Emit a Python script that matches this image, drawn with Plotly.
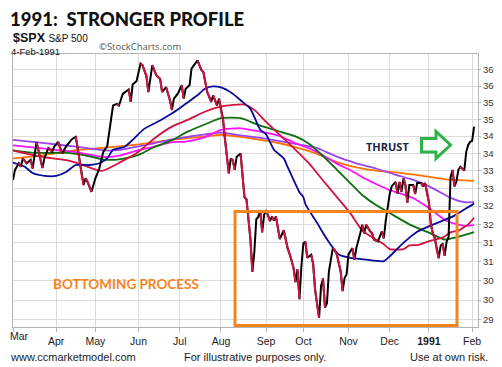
import plotly.graph_objects as go

# x values: trading-day number, 1 Mar 1990 = 0 (4 Feb 1991 = 235)
price_day = [0, 1, 3, 4, 5, 7, 9, 10, 12, 15, 16, 18, 20, 21, 23, 25, 27, 30, 32, 33,
             35, 36, 37, 38, 40, 42, 44, 46, 48, 50, 51, 53, 54, 56, 58, 59, 60, 61, 63, 65,
             66, 68, 69, 71, 73, 75, 76, 78, 80, 81, 82, 84, 86, 87, 88, 90, 91, 94, 95, 96,
             97, 99, 100, 101, 102, 104, 105, 106, 107, 108, 110, 111, 112, 113, 114, 116, 117, 118, 119, 120,
             121, 122, 123, 124, 125, 126, 127, 128, 129, 131, 132, 133, 134, 136, 138, 140, 141, 143, 144, 145,
             146, 147, 148, 149, 150, 152, 153, 154, 156, 157, 158, 159, 160, 161, 162, 163, 164, 165, 167, 168,
             169, 170, 171, 173, 174, 175, 177, 178, 179, 180, 182, 183, 184, 186, 188, 189, 190, 191, 192, 193,
             195, 196, 197, 198, 199, 200, 201, 202, 204, 205, 206, 208, 209, 210, 211, 212, 213, 214, 215, 216,
             217, 218, 219, 220, 221, 222, 223, 224, 225, 226, 227, 228, 229, 230, 231, 232, 233, 234, 235]
price_val = [332.3, 335.2, 337.1, 336.1, 338.5, 337.1, 338.1, 335.6, 343.3, 335.7, 338.5, 341.5, 340.4, 341.9, 343.3, 339.9, 341.9, 344.1, 344.8, 341.4,
             333.8, 330.9, 332.8, 331.8, 329.0, 332.8, 335.6, 340.4, 342.0, 350.2, 354.1, 354.6, 354.1, 357.7, 358.7, 359.0, 355.2, 360.5, 361.6, 367.0,
             366.5, 363.1, 358.2, 366.5, 363.4, 362.2, 358.2, 359.7, 355.7, 352.7, 356.2, 357.7, 360.3, 356.2, 359.2, 360.3, 365.4, 368.0, 366.5, 365.0,
             364.4, 358.2, 356.7, 355.2, 357.2, 354.1, 356.2, 352.7, 350.2, 344.3, 334.2, 338.5, 338.0, 335.2, 339.0, 339.9, 333.7, 327.4, 326.9, 321.5,
             316.0, 307.3, 312.5, 321.4, 322.0, 323.9, 317.8, 322.6, 323.9, 320.9, 322.2, 321.0, 322.2, 316.0, 318.4, 313.5, 312.0, 308.3, 304.6, 308.0,
             300.2, 308.9, 314.9, 315.3, 311.0, 311.8, 309.3, 302.5, 295.5, 303.6, 305.6, 298.1, 299.1, 307.4, 311.0, 313.6, 313.0, 312.0, 307.4, 302.3,
             305.7, 306.6, 311.9, 313.6, 310.5, 313.6, 317.6, 319.9, 317.6, 319.9, 318.1, 317.6, 315.8, 315.4, 318.1, 316.2, 321.1, 325.2, 328.4, 330.5,
             331.8, 328.4, 331.8, 329.0, 332.8, 330.9, 326.0, 330.9, 330.9, 328.4, 331.5, 331.5, 330.5, 331.5, 329.0, 326.0, 319.9, 317.6, 316.2, 313.0,
             310.9, 314.3, 314.7, 311.5, 315.3, 316.5, 333.0, 335.2, 330.5, 331.9, 335.2, 336.1, 335.5, 335.0, 340.4, 342.4, 343.3, 343.6, 347.8]

blue_day = [0, 6, 10, 16, 22, 27, 32, 39, 44, 48, 51, 57, 61, 67, 75, 79, 85, 90, 94, 98,
            102, 106, 112, 117, 121, 126, 129, 133, 138, 140, 146, 148, 149, 155, 160, 166, 172, 179, 189, 192,
            199, 206, 213, 219, 225, 231, 235]
blue_val = [337.3, 336.1, 334.3, 333.5, 333.5, 334.6, 336.6, 336.6, 337.1, 338.5, 341.0, 341.9, 343.9, 347.2, 349.6, 351.0, 353.3, 355.5, 357.2, 359.3,
            359.9, 359.6, 357.7, 355.2, 353.1, 346.9, 345.5, 341.0, 338.5, 336.0, 328.9, 327.5, 325.6, 320.4, 316.0, 311.9, 311.0, 310.6, 310.1, 311.4,
            315.0, 318.0, 319.7, 321.0, 322.4, 324.4, 325.7]

red_day = [0, 14, 28, 36, 45, 55, 64, 72, 81, 89, 98, 106, 118, 123, 129, 137, 144, 151, 158, 165,
           172, 178, 183, 189, 192, 199, 202, 206, 213, 219, 223, 227, 230, 232, 235]
red_val = [340.8, 339.0, 337.9, 336.5, 334.9, 337.5, 340.4, 344.3, 347.8, 349.8, 352.3, 353.8, 354.4, 352.8, 349.2, 344.8, 341.0, 337.0, 332.2, 327.6,
           323.0, 318.3, 316.5, 314.6, 313.3, 313.3, 314.3, 314.4, 315.6, 316.4, 317.8, 318.3, 319.3, 320.0, 321.8]

green_day = [0, 11, 28, 39, 47, 55, 64, 72, 81, 89, 98, 106, 116, 125, 135, 144, 151, 158, 165, 172,
             178, 185, 192, 202, 213, 220, 226, 235]
green_val = [340.8, 340.1, 340.1, 339.1, 338.1, 338.3, 339.5, 341.8, 343.8, 346.3, 348.5, 350.3, 350.3, 348.3, 346.5, 344.9, 342.7, 339.2, 335.3, 331.4,
             328.1, 325.3, 323.1, 320.0, 317.5, 315.9, 316.5, 317.9]

magenta_day = [0, 15, 32, 47, 55, 64, 72, 81, 88, 98, 106, 116, 126, 135, 144, 151, 158, 165, 172, 178,
               185, 192, 204, 213, 221, 230, 235]
magenta_val = [342.3, 341.4, 340.3, 338.9, 339.4, 340.9, 341.9, 343.2, 343.4, 344.7, 346.8, 347.3, 346.3, 345.2, 342.9, 341.4, 339.4, 337.0, 335.1, 333.1,
               331.2, 329.5, 327.2, 324.1, 320.9, 319.6, 319.8]

purple_day = [0, 15, 32, 47, 55, 64, 72, 81, 89, 98, 106, 116, 126, 136, 146, 155, 165, 175, 185, 195,
              202, 209, 216, 223, 230, 235]
purple_val = [343.9, 343.0, 341.9, 340.8, 341.0, 342.0, 342.9, 344.0, 344.8, 345.5, 346.0, 345.2, 344.5, 343.5, 342.5, 341.5, 339.0, 337.1, 335.6, 333.8,
              332.7, 331.3, 329.4, 327.3, 326.1, 326.1]

orange_day = [0, 15, 32, 47, 64, 81, 98, 106, 116, 126, 136, 146, 155, 165, 175, 185, 195, 209, 221, 235]
orange_val = [338.5, 339.4, 340.9, 341.6, 342.6, 343.9, 344.9, 345.4, 344.8, 343.9, 342.9, 341.4, 339.8, 337.4, 335.9, 335.0, 334.5, 333.5, 332.5, 332.1]

month_day = [0, 22, 42, 64, 85, 106, 129, 148, 171, 192, 212, 234]
month_lbl = ["Mar", "Apr", "May", "Jun", "Jul", "Aug", "Sep", "Oct", "Nov", "Dec", "<b>1991</b>", "Feb"]
y_ticks = [295, 300, 305, 310, 315, 320, 325, 330, 335, 340, 345, 350, 355, 360, 365]

# the page body has an 8px margin; lay the figure out in window pixels minus that offset
OFF = 8
W, H = 502 - OFF, 367 - OFF
L, R, T, B = 13 - OFF, 24, 54 - OFF, 40
PW, PH = W - L - R, H - T - B


def px(x):
    return (x - OFF - L) / PW


def py(y):
    return (H - B - (y - OFF)) / PH


fig = go.Figure()
ma_specs = [
    (orange_day, orange_val, "#ff7200"),
    (purple_day, purple_val, "#9b45f0"),
    (magenta_day, magenta_val, "#ff10ff"),
    (green_day, green_val, "#0c6e0c"),
    (red_day, red_val, "#d3123f"),
    (blue_day, blue_val, "#08089a"),
]
for xd, yv, col in ma_specs:
    fig.add_trace(go.Scatter(x=xd, y=yv, mode="lines", line=dict(color=col, width=1.8, shape="spline", smoothing=0.6),
                             hoverinfo="skip"))

fig.add_trace(go.Scatter(x=price_day, y=price_val, mode="lines", line=dict(color="#000000", width=2), hoverinfo="skip"))
dn_x, dn_y = [], []
for i in range(len(price_day) - 1):
    if price_val[i + 1] < price_val[i]:
        dn_x += [price_day[i], price_day[i + 1], None]
        dn_y += [price_val[i], price_val[i + 1], None]
fig.add_trace(go.Scatter(x=dn_x, y=dn_y, mode="lines", line=dict(color="#d3123f", width=2), hoverinfo="skip"))

shapes = [
    dict(type="rect", xref="paper", yref="paper", x0=px(235), x1=px(457), y0=py(325.5), y1=py(211.5),
         line=dict(color="#f7831f", width=3), fillcolor="rgba(0,0,0,0)"),
]
arrow_pts = [(421.5, 138.5), (436, 138.5), (436, 131.5), (450.5, 145), (436, 158.5), (436, 152), (421.5, 152)]
path = "M " + " L ".join(f"{px(a):.5f},{py(b):.5f}" for a, b in arrow_pts) + " Z"
shapes.append(dict(type="path", xref="paper", yref="paper", path=path,
                   line=dict(color="#2fb24a", width=3), fillcolor="white"))

ann = []


def add_text(text, x, y, size, color="#222", family="Liberation Sans, Arial, sans-serif", xanchor="left", weight=None):
    f = dict(size=size, color=color, family=family)
    if weight:
        f["weight"] = weight
    ann.append(dict(text=text, x=px(x), y=py(y), xref="paper", yref="paper", xanchor=xanchor, yanchor="middle",
                    showarrow=False, font=f))


add_text("1991:  STRONGER PROFILE", 8, 19.4, 18.5, color="#111", family="Lato, Inter, sans-serif", weight=900)
add_text("<b>$SPX</b> <span style='font-size:10px'>S&amp;P 500</span>", 11, 38.2, 12.5, color="#111")
add_text("4-Feb-1991", 9, 51, 9.5, color="#111")
add_text("©StockCharts.com", 97, 46, 9.5, color="#555", family="Open Sans, sans-serif")
add_text("www.ccmarketmodel.com", 8, 357, 11, color="#222")
add_text("For illustrative purposes only.", 255, 357, 11, color="#222", xanchor="center")
add_text("Use at own risk.", 449, 357, 11, color="#222", xanchor="center")
add_text("<b>THRUST</b>", 387, 146, 11, color="#1c2540", xanchor="center", family="Open Sans, sans-serif")
add_text("<b>BOTTOMING PROCESS</b>", 125.5, 283.5, 13.5, color="#f7831f", xanchor="center", family="Lato, sans-serif")
# first month label would straddle the window's left edge: set it as a left-aligned text instead
add_text(month_lbl[0], 8, 336, 10.5, color="#222")

fig.update_layout(
    width=W, height=H, margin=dict(l=L, r=R, t=T, b=B, autoexpand=False),
    paper_bgcolor="white", plot_bgcolor="white", showlegend=False,
    font=dict(family="Liberation Sans, Arial, sans-serif", size=10, color="#222"),
    shapes=shapes, annotations=ann,
)
fig.update_xaxes(range=[0, 237], tickmode="array", tickvals=month_day, ticktext=[""] + month_lbl[1:],
                 showgrid=True, gridcolor="#dcdcdc", gridwidth=1, zeroline=False, automargin=False,
                 showline=True, linecolor="#b4b4b4", linewidth=1, mirror=True,
                 ticks="outside", ticklen=4, tickcolor="#b4b4b4",
                 tickfont=dict(size=10.5, color="#222"))
fig.update_yaxes(type="log", range=[2.46716, 2.56820], side="right", tickmode="array",
                 tickvals=y_ticks, ticktext=[str(v) for v in y_ticks], automargin=False,
                 showgrid=True, gridcolor="#dcdcdc", gridwidth=1, zeroline=False,
                 showline=True, linecolor="#b4b4b4", linewidth=1, mirror=True,
                 ticks="outside", ticklen=2, tickcolor="#b4b4b4",
                 tickfont=dict(size=9.5, color="#333"))

fig.write_html("out.html")
